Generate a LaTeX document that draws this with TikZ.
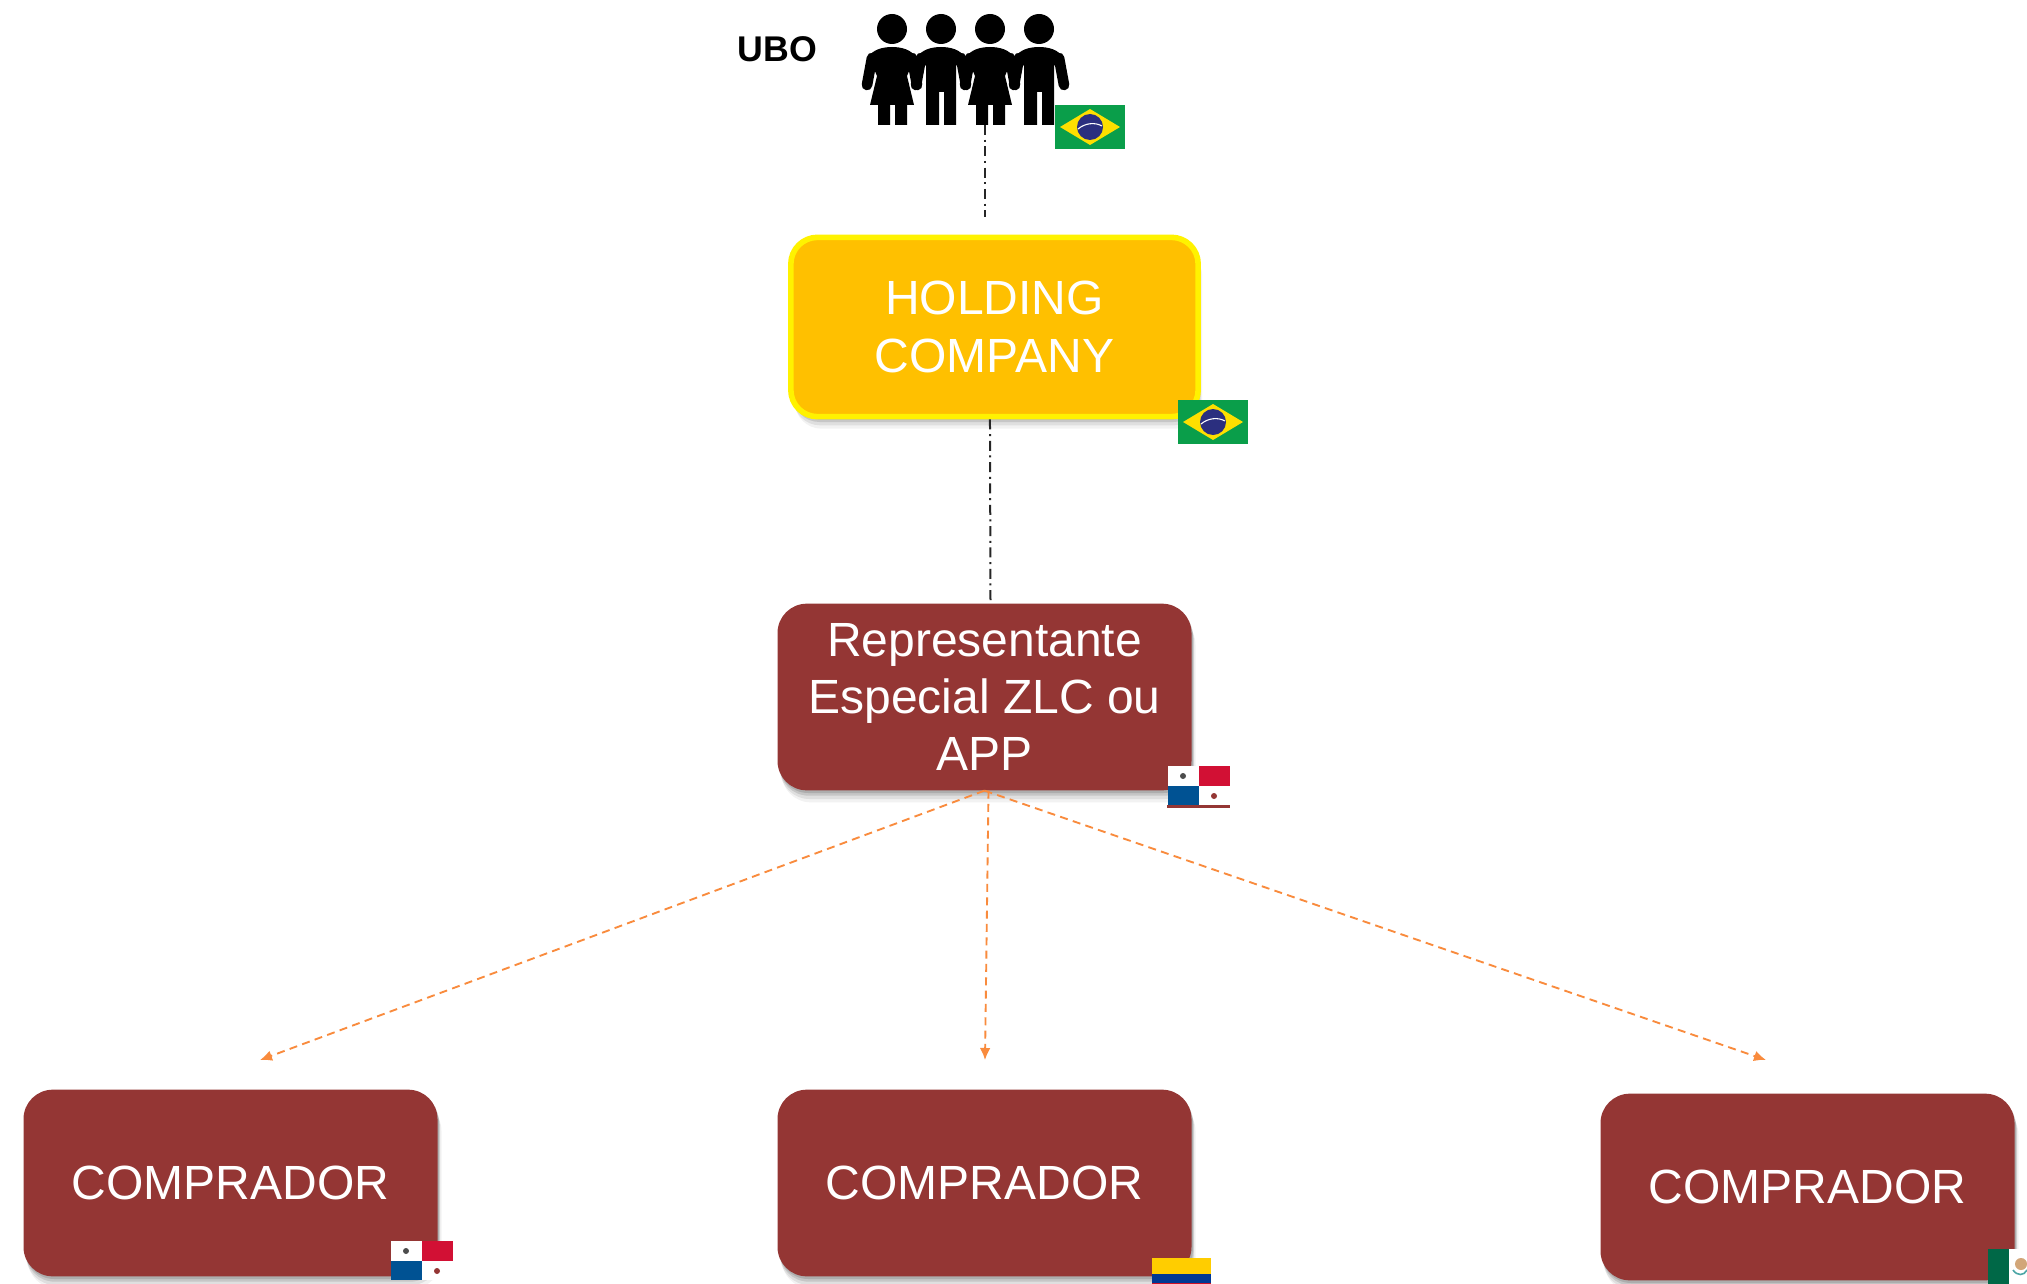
\documentclass[tikz,border=0pt]{standalone}
\usepackage{fontspec}
\setmainfont{Liberation Sans}
\usepackage{tikz}
\usetikzlibrary{arrows.meta,shadows,positioning,calc}

\definecolor{maroonbox}{HTML}{943634}
\definecolor{holdfill}{HTML}{FFC000}
\definecolor{linkorange}{HTML}{F98B3D}
\definecolor{brgreen}{HTML}{0A9E4A}
\definecolor{bryellow}{HTML}{FEDF00}
\definecolor{brblue}{HTML}{2B2F7F}
\definecolor{pared}{HTML}{D21034}
\definecolor{pablue}{HTML}{005293}
\definecolor{coyellow}{HTML}{FFCD00}
\definecolor{coblue}{HTML}{003893}
\definecolor{cored}{HTML}{CE1126}
\definecolor{mxgreen}{HTML}{006847}

\tikzset{
  softshadow/.style={
    general shadow={shadow xshift=1pt,shadow yshift=-2pt,fill=black,opacity=.12},
    general shadow={shadow xshift=1.5pt,shadow yshift=-4pt,fill=black,opacity=.11},
    general shadow={shadow xshift=2pt,shadow yshift=-6.5pt,fill=black,opacity=.08},
    general shadow={shadow xshift=3pt,shadow yshift=-9pt,fill=black,opacity=.05}},
  boxtext/.style={text=white,font=\fontsize{36}{43}\selectfont,align=center,inner sep=0pt},
  maroon/.style={boxtext,softshadow,fill=maroonbox,rounded corners=22pt,
    minimum width=310.5pt,minimum height=140pt},
  holding/.style={boxtext,softshadow,fill=holdfill,draw=yellow,line width=4.2pt,
    rounded corners=20pt,minimum width=305.5pt,minimum height=134.5pt},
  owner/.style={draw=black!85,line width=1.5pt,dash pattern=on 7.5pt off 3.5pt on 1.5pt off 3.5pt},
  buyer/.style={draw=linkorange,line width=1.4pt,dash pattern=on 6pt off 4pt,
    -{Latex[length=9pt,width=8pt]}},
  manfig/.pic={
    \fill (0,28) circle [radius=15];
    \fill (-15,124) -- (-2,124) -- (-2,91) -- (3,91) -- (3,124) -- (15,124) -- (15,65) -- (23,56)
      .. controls (20,49) and (10,46) .. (0,46)
      .. controls (-10,46) and (-20,49) .. (-23,56) -- (-15,65) -- cycle;
    \draw[line width=8pt,line cap=round] (-20,57) -- (-25,84);
    \draw[line width=8pt,line cap=round] (20,57) -- (25,84);
  },
  womanfig/.pic={
    \fill (0,28) circle [radius=15];
    \fill (-14,124) -- (-2,124) -- (-2,104) -- (3,104) -- (3,124) -- (15,124) -- (15,104) -- (22,104)
      -- (15,75) -- (23,56)
      .. controls (20,49) and (10,46) .. (0,46)
      .. controls (-10,46) and (-20,49) .. (-23,56) -- (-15,75) -- (-22,104) -- (-14,104) -- cycle;
    \draw[line width=8pt,line cap=round] (-20,57) -- (-25,84);
    \draw[line width=8pt,line cap=round] (20,57) -- (25,84);
  },
  brflag/.pic={
    \fill[brgreen] (0,0) rectangle (70,44);
    \fill[bryellow] (5,22) -- (35,4) -- (65,22) -- (35,40) -- cycle;
    \fill[brblue] (35,22) circle [radius=13];
    \draw[white,line width=.8pt] (23,24) .. controls (30,18) and (40,17) .. (47,21);
  },
  paflag/.pic={
    \fill[white] (0,0) rectangle (62,39);
    \fill[pared] (31,0) rectangle (62,20);
    \fill[pablue] (0,20) rectangle (31,39);
    \fill[black!70] (15,10) circle [radius=3];
    \fill[maroonbox] (46,30) circle [radius=3];
  }
}

\begin{document}
\begin{tikzpicture}[x=.75pt,y=-.75pt]
  \useasboundingbox (0,0) rectangle (2027,1284);
  \fill[white] (0,0) rectangle (2027,1284);

  \node[font=\fontsize{26.8}{30}\selectfont\bfseries,inner sep=0pt] (ubo) at (777.5,49) {UBO};
  \pic at (892,1) {womanfig};
  \pic at (941,1) {manfig};
  \pic at (990,1) {womanfig};
  \pic at (1039,1) {manfig};

  \node[holding] (hold) at (994.5,327) {HOLDING\\COMPANY};
  \node[maroon] (rep) at (984.5,697) {Representante\\Especial ZLC ou\\APP};
  \node[maroon] (buy1) at (230.5,1183) {COMPRADOR};
  \node[maroon] (buy2) at (984.5,1183) {COMPRADOR};
  \node[maroon] (buy3) at (1807.5,1187) {COMPRADOR};

  \coordinate (uboend) at (985,125);
  \coordinate (holdin) at (985,217);
  \coordinate (tip1) at (260,1060);
  \coordinate (tip2) at (985,1060);
  \coordinate (tip3) at (1766,1060);
  \draw[owner] (uboend) -- (holdin);
  \draw[owner] ([xshift=-3.4pt]hold.south) -- ([xshift=4.5pt]rep.north);
  \draw[buyer] (rep.south) -- (tip1);
  \draw[buyer] ([xshift=3pt]rep.south) -- (tip2);
  \draw[buyer] (rep.south) -- (tip3);

  \pic at (1055,105) {brflag};
  \pic at (1178,400) {brflag};
  \pic at (1168,766) {paflag};
  \fill[maroonbox] (1167,805) rectangle (1230,808);
  \pic at (391,1241) {paflag};

  % colombia and mexico run off the page
  \fill[coyellow] (1152,1258) rectangle (1211,1274);
  \fill[coblue] (1152,1274) rectangle (1211,1283);
  \fill[cored] (1152,1283) rectangle (1211,1284);
  \fill[white] (2009,1249) rectangle (2027,1284);
  \fill[mxgreen] (1988,1249) rectangle (2009,1284);
  \begin{scope}
    \clip (2009,1249) rectangle (2027,1284);
    \fill[brown!70!white] (2021,1264) circle [radius=6];
    \draw[teal!70!white,line width=1.2pt] (2013,1270) .. controls (2017,1276) and (2024,1276) .. (2027,1270);
  \end{scope}
\end{tikzpicture}
\end{document}
